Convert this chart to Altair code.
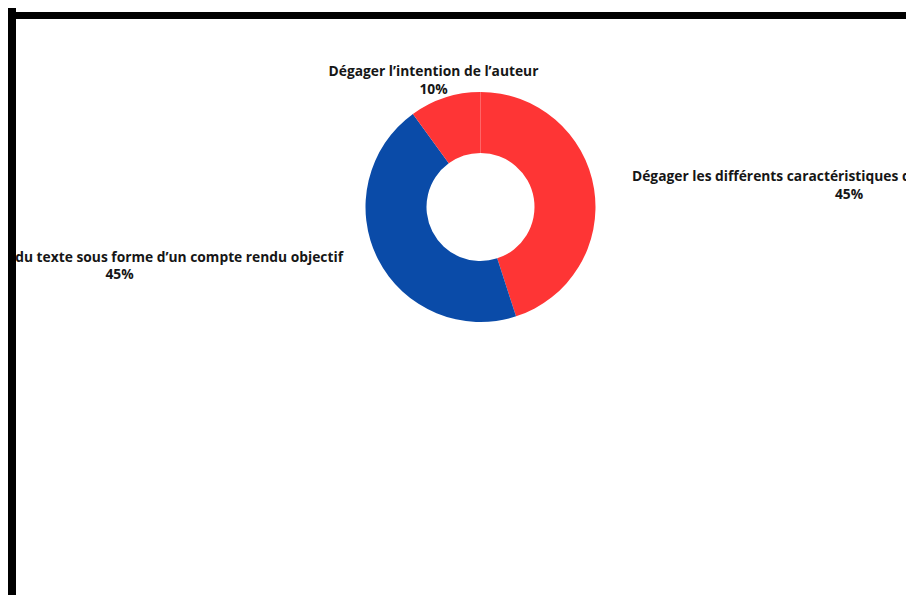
import altair as alt
import pandas as pd

labels = [
    "Dégager les différents caractéristiques du texte argumentatif",
    "Résumer le contenu du texte sous forme d’un compte rendu objectif",
    "Dégager l’intention de l’auteur",
]
values = [45, 45, 10]
colors = ["#fe3535", "#0a4ba8", "#fe3536"]

df = pd.DataFrame({
    "label": labels,
    "value": values,
    "order": [0, 1, 2],
    "pct": [f"{v}%" for v in values],
})

W, H = 898, 587
CX, CY = 472.5, 199

base = alt.Chart(df)

donut = base.mark_arc(outerRadius=115, innerRadius=54, x=CX, y=CY).encode(
    theta=alt.Theta("value:Q", stack=True),
    order=alt.Order("order:Q"),
    color=alt.Color("label:N", scale=alt.Scale(domain=labels, range=colors), legend=None),
)

font = "Open Sans"
txt = dict(font=font, fontWeight="bold", fontSize=13.8, color="#161616", baseline="middle")

def label_layer(i, x1, y1, align1, x2, y2):
    sub = base.transform_filter(alt.datum.order == i)
    l1 = sub.mark_text(align=align1, x=x1, y=y1, **txt).encode(text="label:N")
    l2 = sub.mark_text(align="center", x=x2, y=y2, **txt).encode(text="pct:N")
    return l1 + l2

top = label_layer(2, 425.5, 64, "center", 425.5, 82)
right = label_layer(0, 624, 169, "left", 841, 186.5)
left = label_layer(1, 335, 249.5, "right", 111.5, 267)

one = alt.Chart(pd.DataFrame({"k": [0]}))
border_left = one.mark_rule(color="black", strokeWidth=8).encode(
    x=alt.value(4), y=alt.value(0), y2=alt.value(H)
)
border_top = one.mark_rule(color="black", strokeWidth=7).encode(
    x=alt.value(0), x2=alt.value(W), y=alt.value(7.5)
)

chart = alt.layer(donut, top, right, left, border_left, border_top).properties(
    width=W, height=H, padding=0, autosize=alt.AutoSizeParams(type="none"),
    background="white",
).configure_view(stroke=None)

chart.save("out.html", embed_options={"renderer": "svg", "actions": False})
